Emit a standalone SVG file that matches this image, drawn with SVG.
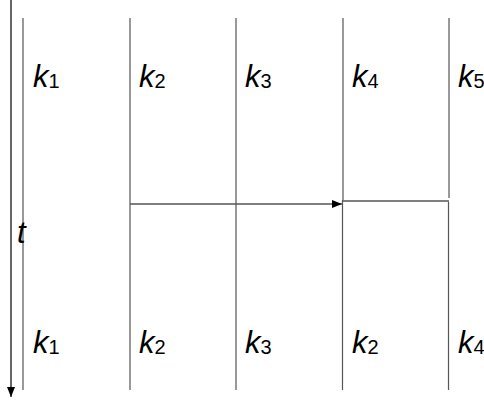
<svg xmlns="http://www.w3.org/2000/svg" width="484" height="400" viewBox="0 0 484 400">
<style>
.v{stroke:#555;stroke-width:1.2;fill:none}
.h{stroke:#000;stroke-width:1.2;fill:none}
.lbl{font-family:"Liberation Sans",Arial,sans-serif;font-style:italic;font-size:31px;fill:#000}
.sub{font-style:normal;font-size:20px}
</style>
<defs>
<marker id="ah" markerWidth="10" markerHeight="8" refX="10" refY="4" orient="auto" markerUnits="userSpaceOnUse">
<path d="M0,0 L10,4 L0,8 z" fill="#000"/>
</marker>
</defs>
<g id="connectors">
<line class="h" x1="11" y1="0" x2="11" y2="397" marker-end="url(#ah)"/>
<line class="h" x1="130" y1="204" x2="342" y2="204" marker-end="url(#ah)"/>
<line class="h" x1="343" y1="201" x2="449" y2="201"/>
</g>
<g id="col1"><line class="v" x1="23" y1="18" x2="23" y2="390"/></g>
<g id="col2"><line class="v" x1="130" y1="18" x2="130" y2="390"/></g>
<g id="col3"><line class="v" x1="236" y1="18" x2="236" y2="390"/></g>
<g id="col4"><line class="v" x1="343" y1="18" x2="343" y2="200"/><line class="v" x1="342.5" y1="200" x2="342.5" y2="390"/></g>
<g id="col5"><line class="v" x1="449" y1="18" x2="449" y2="198"/><line class="v" x1="448.5" y1="202" x2="448.5" y2="390"/></g>
<g id="labels-top">
<text class="lbl" x="33" y="87">k<tspan class="sub" dy="1">1</tspan></text>
<text class="lbl" x="139" y="87">k<tspan class="sub" dy="1">2</tspan></text>
<text class="lbl" x="245" y="87">k<tspan class="sub" dy="1">3</tspan></text>
<text class="lbl" x="352" y="87">k<tspan class="sub" dy="1">4</tspan></text>
<text class="lbl" x="458" y="87">k<tspan class="sub" dy="1">5</tspan></text>
</g>
<g id="labels-bottom">
<text class="lbl" x="33" y="353">k<tspan class="sub" dy="1">1</tspan></text>
<text class="lbl" x="139" y="353">k<tspan class="sub" dy="1">2</tspan></text>
<text class="lbl" x="245" y="353">k<tspan class="sub" dy="1">3</tspan></text>
<text class="lbl" x="352" y="353">k<tspan class="sub" dy="1">2</tspan></text>
<text class="lbl" x="458" y="353">k<tspan class="sub" dy="1">4</tspan></text>
</g>
<g id="time-label"><text class="lbl" x="17" y="243">t</text></g>
</svg>
